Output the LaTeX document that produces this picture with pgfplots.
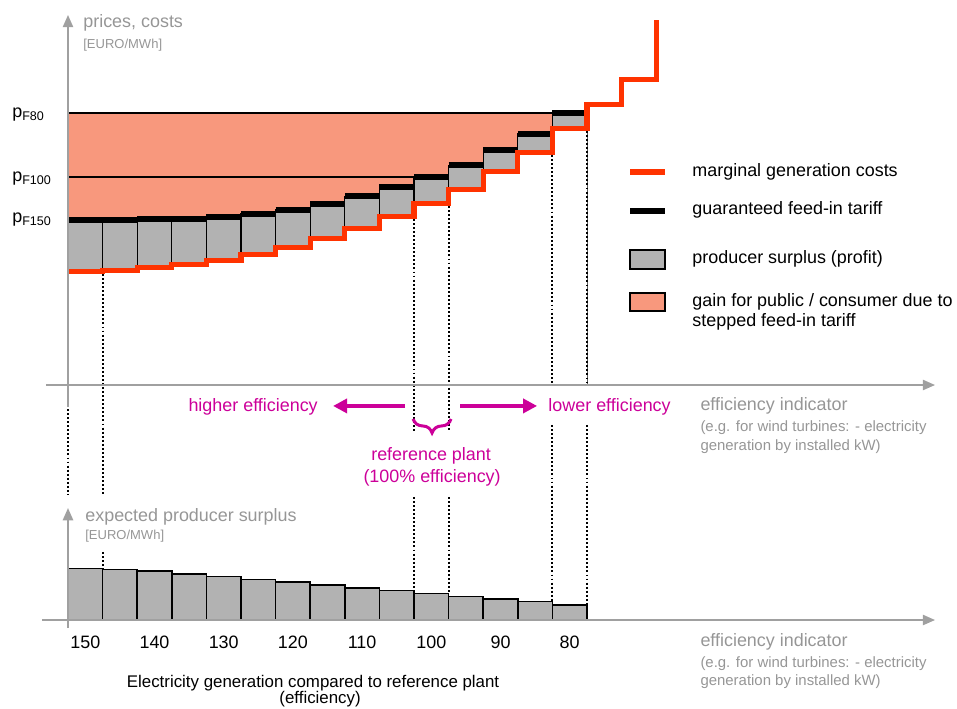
\documentclass[border=0pt]{standalone}
\usepackage{pgfplots}
\pgfplotsset{compat=1.18}
\usepackage{pgfplotstable}
\usepackage{fontspec}
\setmainfont{Liberation Sans}
\usetikzlibrary{arrows.meta,decorations.pathreplacing}

\definecolor{mred}{RGB}{255,51,0}
\definecolor{sgrey}{RGB}{178,178,178}
\definecolor{agrey}{RGB}{160,160,160}
\definecolor{tgrey}{RGB}{150,150,150}
\definecolor{magen}{RGB}{204,0,153}
\definecolor{hatch}{RGB}{248,152,125}

\newcommand\fbig{\fontsize{10.2pt}{12.5pt}\selectfont}
\newcommand\fmid{\fontsize{8.5pt}{10.2pt}\selectfont}
\newcommand\fsmall{\fontsize{7.4pt}{9pt}\selectfont}
\newcommand\fxl{\fontsize{9.6pt}{9.6pt}\selectfont}
\tikzset{guide/.style={line width=1.1pt, dash pattern=on 1.1pt off 1.2pt, black}}

% bars of the upper chart: tariff and marginal cost per efficiency class
\pgfplotstableread{
xc tariff cost
0.5 165 113.5
1.5 165 114.5
2.5 166 117.5
3.5 166 120.2
4.5 168 124.2
5.5 171 130.2
6.5 175 137.5
7.5 181 146.2
8.5 188.7 156.5
9.5 197.7 168.5
10.5 208 181.5
11.5 219.7 195.5
12.5 234.7 213.5
13.5 251 232.5
14.5 272 256.5
}\bars

\pgfplotstableread{
k tariff
0 165
1 165
2 166
3 166
4 168
5 171
6 175
7 181
8 188.7
9 197.7
10 208
11 219.7
12 234.7
13 251
14 272
15 272
}\tariffsteps

\pgfplotstableread{
k cost
0 113.5
1 114.5
2 117.5
3 120.2
4 124.2
5 130.2
6 137.5
7 146.2
8 156.5
9 168.5
10 181.5
11 195.5
12 213.5
13 232.5
14 256.5
15 280.2
16 305
17 365
}\coststeps

\pgfplotstableread{
xc surplus
0.5 51.5
1.5 50.5
2.5 48.8
3.5 46.2
4.5 43.5
5.5 40.5
6.5 37.8
7.5 34.8
8.5 32.2
9.5 29.5
10.5 26.5
11.5 23.5
12.5 21.2
13.5 18.5
14.5 15.2
}\surplus

\begin{document}
\begin{tikzpicture}
\useasboundingbox (0,0) rectangle (19.14cm,14.16cm);

% ---------------- upper chart ----------------
\begin{axis}[
  at={(1.36cm,6.46cm)}, anchor=origin,
  x=0.692cm, y=0.02cm,
  xmin=-0.64, xmax=25.06, ymin=-22, ymax=370,
  axis lines=middle, axis on top, clip=false,
  axis line style={draw=agrey, line width=1.13pt},
  x axis line style={-{Triangle[length=7pt,width=5.8pt]}},
  y axis line style={-{Triangle[length=7pt,width=5.8pt]}},
  xtick=\empty,
  ytick={167,208,272},
  yticklabels={p\textsubscript{F150},p\textsubscript{F100},p\textsubscript{F80}},
  major tick length=0pt,
  yticklabel style={anchor=mid west, inner sep=0pt, xshift=-1.12cm, font=\fbig, text=black},
]
% gain for public (hatched)
\addplot[draw=none, fill=hatch] coordinates {(0,272) (14,272)} \closedcycle;
% producer surplus bars
\addplot[ybar, bar width=1, fill=sgrey, draw=black, line width=0.6pt] table[x=xc, y=tariff] {\bars};
\addplot[ybar, bar width=1.02, fill=white, draw=none] table[x=xc, y=cost] {\bars};
% price levels
\addplot[black, line width=0.7pt] coordinates {(0,272) (14,272)};
\addplot[black, line width=0.7pt] coordinates {(0,208) (10,208)};
% guaranteed feed-in tariff
\addplot[jump mark left, black, line width=3.4pt] table[x=k, y=tariff] {\tariffsteps};
% marginal generation costs
\addplot[const plot, mred, line width=2.9pt] table[x=k, y=cost] {\coststeps};
% dotted guides
\draw[guide] (axis cs:0,-24) -- (axis cs:0,-110);
\draw[guide] (axis cs:1,111) -- (axis cs:1,-110);
\draw[guide] (axis cs:10,166) -- (axis cs:10,-47);
\draw[guide] (axis cs:11,179) -- (axis cs:11,-47);
\draw[guide] (axis cs:14,230) -- (axis cs:14,0);
\draw[guide] (axis cs:15,254) -- (axis cs:15,0);
\end{axis}

% ---------------- lower chart ----------------
\begin{axis}[
  at={(1.36cm,1.76cm)}, anchor=origin,
  x=0.692cm, y=0.02cm,
  xmin=-0.75, xmax=25.06, ymin=-8, ymax=112,
  axis lines=middle, axis on top, clip=false,
  axis line style={draw=agrey, line width=1.13pt},
  x axis line style={-{Triangle[length=7pt,width=5.8pt]}},
  y axis line style={-{Triangle[length=7pt,width=5.8pt]}},
  xtick={0.5,2.5,...,14.5},
  xticklabels={150,140,130,120,110,100,90,80},
  ytick=\empty,
  major tick length=0pt,
  xticklabel style={font=\fbig, text=black, yshift=-0.19cm},
]
\addplot[ybar, bar width=1, fill=sgrey, draw=black, line width=0.85pt] table[x=xc, y=surplus] {\surplus};
\draw[guide] (axis cs:1,68) -- (axis cs:1,51);
\draw[guide] (axis cs:10,123) -- (axis cs:10,29.5);
\draw[guide] (axis cs:11,123) -- (axis cs:11,26.5);
\draw[guide] (axis cs:14,195) -- (axis cs:14,18.5);
\draw[guide] (axis cs:15,195) -- (axis cs:15,15.2);
\end{axis}

% ---------------- annotations ----------------
\begin{scope}[x=0.02cm, y=0.02cm, every node/.style={inner sep=0pt}]
\node[anchor=mid west, text=tgrey, font=\fbig] at (83,685) {prices, costs};
\node[anchor=mid west, text=tgrey, font=\fsmall] at (83,664) {[EURO/MWh]};
\node[anchor=mid west, text=tgrey, font=\fbig] at (85,191) {expected producer surplus};
\node[anchor=mid west, text=tgrey, font=\fsmall] at (85,173) {[EURO/MWh]};

% legend
\draw[mred, line width=3.4pt] (630,536) -- (665,536);
\draw[black, line width=3.4pt] (630,497) -- (665,497);
\draw[fill=sgrey, line width=0.9pt] (630,439) rectangle (665,458);
\draw[fill=hatch, line width=0.9pt] (630,397) rectangle (665,415);
\node[anchor=mid west, font=\fbig] at (692,536) {marginal generation costs};
\node[anchor=mid west, font=\fbig] at (692,498.5) {guaranteed feed-in tariff};
\node[anchor=mid west, font=\fbig] at (692,449.5) {producer surplus (profit)};
\node[anchor=mid west, font=\fbig] at (692,406) {gain for public / consumer due to};
\node[anchor=mid west, font=\fbig] at (692,386) {stepped feed-in tariff};

% efficiency direction
\node[anchor=mid east, text=magen, font=\fbig] at (318,301) {higher efficiency};
\node[anchor=mid west, text=magen, font=\fbig] at (548,301) {lower efficiency};
\draw[magen, line width=2.3pt, -{Triangle[length=8pt,width=8pt]}] (405,302) -- (333,302);
\draw[magen, line width=2.3pt, -{Triangle[length=8pt,width=8pt]}] (460,302) -- (537,302);
\draw[magen, line width=1.7pt, decorate, decoration={brace, mirror, amplitude=0.28cm}] (413,289) -- (451,289);
\node[text=magen, font=\fbig] at (431,252) {reference plant};
\node[text=magen, font=\fbig] at (432,230) {(100\% efficiency)};

\node[anchor=mid west, text=tgrey, font=\fbig] at (700,302) {efficiency indicator};
\node[anchor=mid west, text=tgrey, font=\fmid] at (700,281) {(e.g. for wind turbines: - electricity};
\node[anchor=mid west, text=tgrey, font=\fmid] at (700,262) {generation by installed kW)};

\node[anchor=mid west, text=tgrey, font=\fbig] at (700,66) {efficiency indicator};
\node[anchor=mid west, text=tgrey, font=\fmid] at (700,45) {(e.g. for wind turbines: - electricity};
\node[anchor=mid west, text=tgrey, font=\fmid] at (700,27) {generation by installed kW)};

\node[font=\fxl] at (313,25) {Electricity generation compared to reference plant};
\node[font=\fxl] at (320,9) {(efficiency)};
\end{scope}
\end{tikzpicture}
\end{document}
